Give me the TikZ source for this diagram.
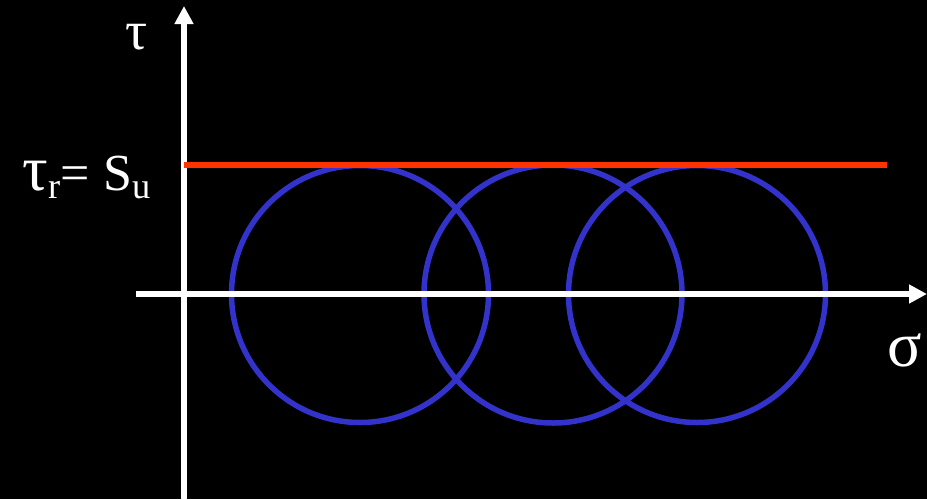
\documentclass[tikz,border=0pt]{standalone}
\usepackage{fontspec}
\setmainfont{Liberation Serif}
\usetikzlibrary{arrows.meta}
\definecolor{mohrblue}{RGB}{51,51,204}
\definecolor{limitred}{RGB}{255,51,0}
\newcommand{\gk}[1]{{\fontsize{64}{70}\selectfont #1}}
\tikzset{
  axis/.style={white,line width=6pt,-{Triangle[length=18pt,width=18pt]}},
  mohr/.style={mohrblue,line width=5.5pt},
  lbl/.style={white,inner sep=0pt,font=\fontsize{52}{58}\selectfont}
}

\begin{document}
\begin{tikzpicture}[x=1pt,y=-1pt]
  \fill[black] (0,0) rectangle (927,499);
  \useasboundingbox (0,0) rectangle (927,499);
  % axes
  \coordinate (ybot) at (184,499);
  \coordinate (ytop) at (184,6);
  \coordinate (xleft) at (136,294);
  \coordinate (xright) at (927,294);
  % Mohr circles
  \foreach \cx/\r [count=\i] in {360/128.5,553/129,697/128.5}
    \draw[mohr] (\cx,294) circle[radius=\r];
  \draw[axis] (ybot) -- (ytop);
  \draw[axis] (xleft) -- (xright);
  % strength limit
  \coordinate (redl) at (184,165);
  \coordinate (redr) at (887,165);
  \draw[limitred,line width=6pt] (redl) -- (redr);
  % labels
  \node[white,inner sep=0pt,font=\fontsize{55}{60}\selectfont,anchor=base] (tau) at (137,49) {τ};
  \node[lbl,anchor=base east] (taur) at (151,190) {\gk{τ}\textsubscript{r}= S\textsubscript{u}};
  \node[lbl,anchor=base] (sigma) at (905,366) {\gk{σ}};
\end{tikzpicture}
\end{document}
